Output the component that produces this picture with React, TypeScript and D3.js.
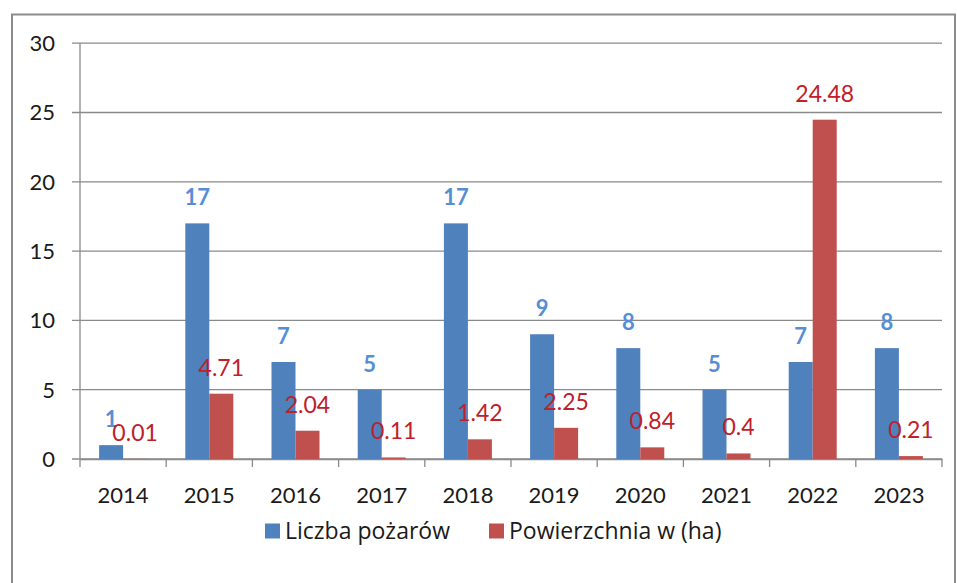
import React, { useEffect, useRef } from "react";
import * as d3 from "d3";

const years = ["2014", "2015", "2016", "2017", "2018", "2019", "2020", "2021", "2022", "2023"];
const fireCount = [1, 17, 7, 5, 17, 9, 8, 5, 7, 8];
const areaHa = [0.01, 4.71, 2.04, 0.11, 1.42, 2.25, 0.84, 0.4, 24.48, 0.21];
const yTicks = [0, 5, 10, 15, 20, 25, 30];
const seriesNames = ["Liczba pożarów", "Powierzchnia w (ha)"];

const BLUE = "#4F81BD";
const RED = "#C0504D";
const BLUE_TEXT = "#558ED5";
const RED_TEXT = "#C0202A";

export default function App() {
  const ref = useRef<SVGSVGElement>(null);

  useEffect(() => {
    const svg = d3.select(ref.current);
    svg.selectAll("*").remove();

    const font = "Lato, 'Open Sans', sans-serif";
    const left = 80, right = 942, top = 43.2, bottom = 459;

    // outer chart frame
    svg.append("rect")
      .attr("x", 12).attr("y", 14.5)
      .attr("width", 943).attr("height", 600)
      .attr("fill", "white")
      .attr("stroke", "#8c8c8c")
      .attr("stroke-width", 2);

    const x = d3.scaleBand().domain(years).range([left, right]);
    const y = d3.scaleLinear().domain([0, 30]).range([bottom, top]);

    // horizontal gridlines + y ticks
    svg.append("g")
      .selectAll("line")
      .data(yTicks)
      .enter()
      .append("line")
      .attr("x1", left - 8)
      .attr("x2", right)
      .attr("y1", d => y(d))
      .attr("y2", d => y(d))
      .attr("stroke", "#8a8a8a")
      .attr("stroke-width", 1.3);

    svg.append("g")
      .selectAll("text")
      .data(yTicks)
      .enter()
      .append("text")
      .attr("x", 55)
      .attr("y", d => y(d))
      .attr("dy", "0.36em")
      .attr("text-anchor", "end")
      .style("font-family", font)
      .style("font-size", "22px")
      .attr("fill", "#1a1a1a")
      .text(d => d);

    // y axis line
    svg.append("line")
      .attr("x1", left).attr("x2", left)
      .attr("y1", top).attr("y2", bottom)
      .attr("stroke", "#8a8a8a")
      .attr("stroke-width", 1.3);

    // x axis
    svg.append("g")
      .attr("transform", "translate(0," + bottom + ")")
      .call(d3.axisBottom(x).tickSize(0).tickPadding(28))
      .call(g => g.select(".domain").attr("stroke", "#8a8a8a").attr("stroke-width", 1.3))
      .call(g => g.selectAll("text")
        .style("font-family", font)
        .style("font-size", "22px")
        .attr("fill", "#1a1a1a"));

    // category separator ticks
    const bounds = years.map(d => x(d) as number).concat([right]);
    svg.append("g")
      .selectAll("line")
      .data(bounds)
      .enter()
      .append("line")
      .attr("x1", d => d).attr("x2", d => d)
      .attr("y1", bottom).attr("y2", bottom + 8)
      .attr("stroke", "#8a8a8a")
      .attr("stroke-width", 1.3);

    const barW = 24;
    const cx = (d: string) => (x(d) as number) + x.bandwidth() / 2;

    // blue bars
    svg.append("g")
      .selectAll("rect")
      .data(years)
      .enter()
      .append("rect")
      .attr("x", d => cx(d) - barW)
      .attr("y", (d, i) => y(fireCount[i]))
      .attr("width", barW)
      .attr("height", (d, i) => bottom - y(fireCount[i]))
      .attr("fill", BLUE);

    // red bars
    svg.append("g")
      .selectAll("rect")
      .data(years)
      .enter()
      .append("rect")
      .attr("x", d => cx(d))
      .attr("y", (d, i) => y(areaHa[i]))
      .attr("width", barW)
      .attr("height", (d, i) => bottom - y(areaHa[i]))
      .attr("fill", RED);

    // labels
    svg.append("g")
      .selectAll("text")
      .data(years)
      .enter()
      .append("text")
      .attr("x", d => cx(d) - barW / 2)
      .attr("y", (d, i) => y(fireCount[i]) - 18)
      .attr("text-anchor", "middle")
      .style("font-family", font)
      .style("font-size", "22px")
      .style("font-weight", "bold")
      .attr("fill", BLUE_TEXT)
      .text((d, i) => fireCount[i]);

    svg.append("g")
      .selectAll("text")
      .data(years)
      .enter()
      .append("text")
      .attr("x", d => cx(d) + barW / 2)
      .attr("y", (d, i) => y(areaHa[i]) - 18)
      .attr("text-anchor", "middle")
      .style("font-family", font)
      .style("font-size", "23px")
      .attr("fill", RED_TEXT)
      .text((d, i) => String(areaHa[i]));

    // legend
    const legend = [
      { name: seriesNames[0], color: BLUE, x: 265 },
      { name: seriesNames[1], color: RED, x: 489 },
    ];
    const lg = svg.append("g").selectAll("g").data(legend).enter().append("g")
      .attr("transform", d => "translate(" + d.x + ",531)");
    lg.append("rect")
      .attr("x", 0).attr("y", -7.5)
      .attr("width", 15).attr("height", 15)
      .attr("fill", d => d.color);
    lg.append("text")
      .attr("x", 20)
      .attr("dy", "0.36em")
      .style("font-family", "'Open Sans', sans-serif")
      .style("font-size", "23px")
      .attr("fill", "#1a1a1a")
      .text(d => d.name);
  }, []);

  return (
    <svg
      ref={ref}
      width={957}
      height={583}
      style={{ position: "absolute", left: 0, top: 0, background: "white" }}
    />
  );
}
